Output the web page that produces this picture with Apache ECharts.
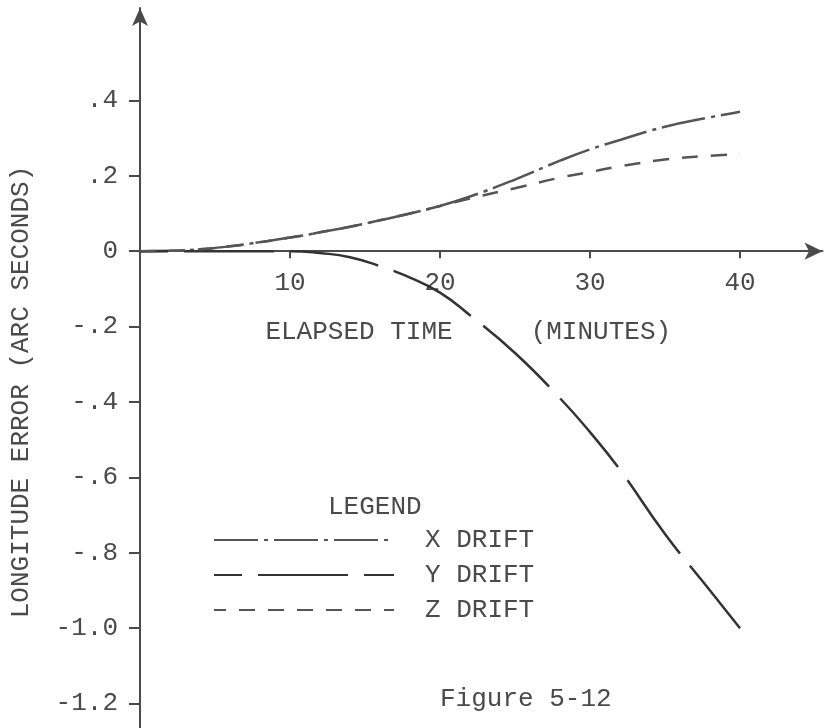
<!DOCTYPE html>
<html>
<head>
<meta charset="utf-8">
<script src="https://cdn.jsdelivr.net/npm/echarts@6/dist/echarts.min.js"></script>
<style>
  html, body { margin: 0; padding: 0; background: #fff; }
  #chart { width: 827px; height: 728px; }
</style>
</head>
<body>
<div id="chart"></div>
<script>
// elapsed time (minutes)
const times = [0, 2, 4, 6, 8, 10, 12, 14, 16, 18, 20, 22, 25, 28, 30, 32, 35, 38, 40];
// longitude error (arc seconds)
const xDrift = [0, 0.001, 0.005, 0.013, 0.024, 0.036, 0.05, 0.065, 0.082, 0.1, 0.12, 0.145, 0.19, 0.24, 0.27, 0.295, 0.33, 0.355, 0.37];
const yDrift = [0, 0, 0, 0, 0, 0, -0.005, -0.016, -0.04, -0.07, -0.11, -0.17, -0.27, -0.39, -0.48, -0.58, -0.75, -0.9, -1.0];
const zDrift = [0, 0.001, 0.005, 0.013, 0.024, 0.036, 0.05, 0.065, 0.082, 0.1, 0.12, 0.14, 0.167, 0.195, 0.21, 0.225, 0.243, 0.253, 0.257];

const xTicks = [10, 20, 30, 40];
const yTicks = [-1.2, -1.0, -0.8, -0.6, -0.4, -0.2, 0, 0.2, 0.4];
const yTickLabels = ['-1.2', '-1.0', '-.8', '-.6', '-.4', '-.2', '0', '.2', '.4'];

const font = '"Courier New", "Liberation Mono", monospace';
const ink = '#4a4a4a';
const fs = 26;

// axis ranges and grid box
const yMin = -1.27, yMax = 0.645;
const gridTop = 8, gridBottom = -2, H = 728;
const gridH = H - gridTop - gridBottom;
// move the time axis up to the zero line
const xAxisOffset = -(0 - yMin) / (yMax - yMin) * gridH;

function pairs(ys) {
  return times.map((t, i) => [t, ys[i]]);
}

const chart = echarts.init(document.getElementById('chart'));
chart.setOption({
  animation: false,
  backgroundColor: '#fff',
  textStyle: { fontFamily: font, color: ink },
  title: [
    { text: 'LEGEND', left: 328, top: 494, padding: 0, textStyle: { fontFamily: font, fontSize: fs, fontWeight: 'normal', color: ink } },
    { text: 'Figure 5-12', left: 440, top: 686, padding: 0, textStyle: { fontFamily: font, fontSize: fs, fontWeight: 'normal', color: ink } }
  ],
  legend: {
    orient: 'vertical',
    left: 213,
    top: 527,
    padding: 0,
    itemWidth: 180,
    itemHeight: 14,
    itemGap: 9,
    itemStyle: { opacity: 0 },
    textStyle: { fontFamily: font, fontSize: fs, lineHeight: 24, color: ink, padding: [0, 0, 0, 26] },
    data: ['X DRIFT', 'Y DRIFT', 'Z DRIFT']
  },
  grid: { left: 140, right: 4.5, top: gridTop, bottom: gridBottom, outerBoundsMode: 'none' },
  xAxis: {
    type: 'value',
    min: 0,
    max: 45.5,
    position: 'bottom',
    offset: xAxisOffset,
    name: 'ELAPSED TIME     (MINUTES)',
    nameLocation: 'middle',
    nameGap: 68,
    nameTextStyle: { fontFamily: font, fontSize: fs, color: ink, padding: [0, 26, 0, 0] },
    axisLine: { onZero: false, symbol: ['none', 'arrow'], symbolSize: [13, 18], lineStyle: { color: ink, width: 2 } },
    axisTick: { show: true, length: 7, inside: false, customValues: xTicks, lineStyle: { color: ink, width: 2 } },
    axisLabel: { customValues: xTicks, margin: 19, fontFamily: font, fontSize: fs, color: ink },
    splitLine: { show: false }
  },
  yAxis: {
    type: 'value',
    min: yMin,
    max: yMax,
    name: 'LONGITUDE ERROR (ARC SECONDS)',
    nameLocation: 'middle',
    nameGap: 106,
    nameTextStyle: { fontFamily: font, fontSize: fs, color: ink, padding: [0, 46, 0, 0] },
    axisLine: { onZero: false, symbol: ['none', 'arrow'], symbolSize: [12, 18], lineStyle: { color: ink, width: 2 } },
    axisTick: { show: true, length: 11, customValues: yTicks, lineStyle: { color: ink, width: 2 } },
    axisLabel: {
      customValues: yTicks,
      margin: 22,
      fontFamily: font,
      fontSize: fs,
      color: ink,
      formatter: v => {
        const i = yTicks.findIndex(t => Math.abs(t - v) < 1e-6);
        return i >= 0 ? yTickLabels[i] : '';
      }
    },
    splitLine: { show: false }
  },
  series: [
    {
      name: 'X DRIFT', type: 'line', data: pairs(xDrift), smooth: true, symbol: 'none',
      lineStyle: { color: '#555', width: 2.5, type: [44, 6, 4, 6] }, itemStyle: { color: '#555' }
    },
    {
      name: 'Y DRIFT', type: 'line', data: pairs(yDrift), smooth: true, symbol: 'none',
      lineStyle: { color: '#333', width: 2.5, type: [90, 16], dashOffset: 62 }, itemStyle: { color: '#333' }
    },
    {
      name: 'Z DRIFT', type: 'line', data: pairs(zDrift), smooth: true, symbol: 'none',
      lineStyle: { color: '#555', width: 2.5, type: [16, 13] }, itemStyle: { color: '#555' }
    }
  ]
});
</script>
</body>
</html>
